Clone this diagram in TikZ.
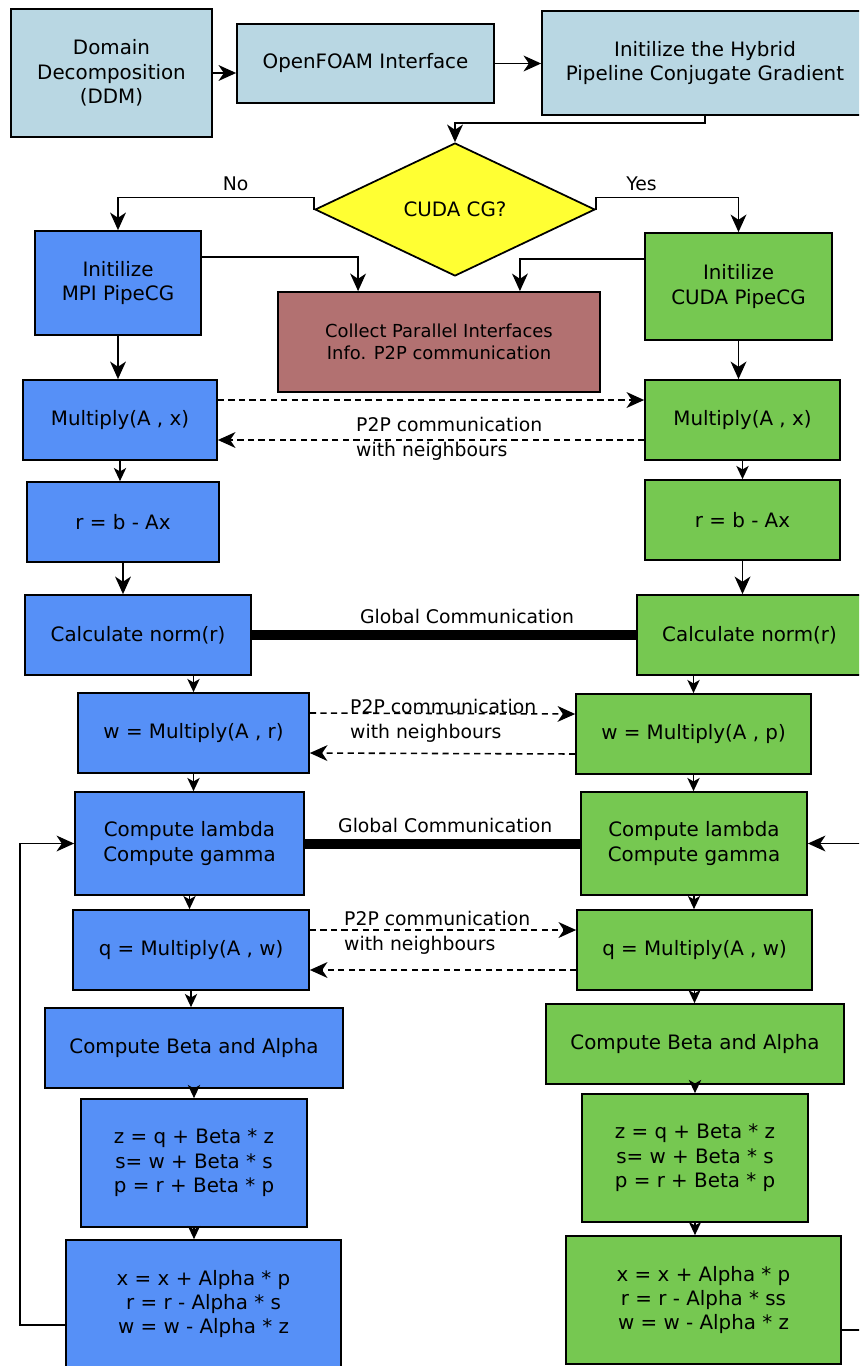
\documentclass[tikz,border=0pt]{standalone}
\usepackage{fontspec}
\setmainfont{DejaVu Sans}
\usepackage{tikz}
\usetikzlibrary{positioning, arrows.meta, shapes.geometric, calc}
\definecolor{setupBlue}{HTML}{B9D7E3}
\definecolor{mpiBlue}{HTML}{5690F7}
\definecolor{cudaGreen}{HTML}{76C851}
\definecolor{collectRed}{HTML}{B27171}
\definecolor{decisionYellow}{HTML}{FFFF33}

\begin{document}
\begin{tikzpicture}[
  x=0.02cm, y=-0.02cm,
  every node/.style={font=\fontsize{11.3}{13.9}\selectfont},
  stepbox/.style={
    rectangle, draw=black, line width=1pt,
    fill=#1, align=center, inner sep=0pt,
    minimum height=1.6cm
  },
  decision/.style={
    diamond, draw=black, line width=1pt,
    fill=decisionYellow, inner sep=0pt, aspect=2,
    minimum width=5.6cm, minimum height=2.66cm
  },
  flow/.style={-{Stealth[length=10pt, width=9pt, inset=3pt]}, line width=0.9pt},
  stepflow/.style={-{Stealth[length=7.5pt, width=7pt, inset=2pt]}, line width=0.9pt},
  p2p/.style={flow, dash pattern=on 3.5pt off 2.5pt},
  globalcomm/.style={line width=5.7pt},
  loopline/.style={flow, line width=0.8pt},
  commlabel/.style={font=\fontsize{10.7}{14}\selectfont, align=left},
]

\useasboundingbox (0,0) rectangle (859,1366);
\clip (0,0) rectangle (859,1366);

% === Setup Row ===
\node[stepbox=setupBlue, minimum width=4.02cm, minimum height=2.56cm] (ddm) at (111.5,73) {Domain\\Decomposition\\(DDM)};
\node[stepbox=setupBlue, minimum width=5.14cm, minimum height=1.58cm] (openfoam) at (365.5,63.5) {OpenFOAM Interface};
\node[stepbox=setupBlue, minimum width=6.52cm, minimum height=2.08cm] (hybrid) at (705,63) {Initilize the Hybrid\\Pipeline Conjugate Gradient};

\draw[flow] (ddm.east) -- (ddm.east -| openfoam.west);
\draw[flow] (openfoam.east) -- (openfoam.east -| hybrid.west);

% === Decision ===
\node[decision] (cudacg) at (455,209.5) {CUDA CG?};
\draw[flow] (hybrid.south) -- ++(0,7) -| (cudacg.north);

% === Init Nodes ===
\node[stepbox=mpiBlue, minimum width=3.32cm, minimum height=2.08cm] (mpiInit) at (118,283) {Initilize\\MPI PipeCG};
\node[stepbox=cudaGreen, minimum width=3.74cm, minimum height=2.14cm] (cudaInit) at (738.5,286.5) {Initilize\\CUDA PipeCG};
\node[stepbox=collectRed, minimum width=6.44cm, minimum height=2cm,
  font=\fontsize{10.2}{12.5}\selectfont] (collect) at (439,342) {Collect Parallel Interfaces\\Info. P2P communication};

\draw[flow] (cudacg.west) -- ++(0,-12) -| node[commlabel, above, pos=0.2] (nolabel) {No} (mpiInit.north);
\draw[flow] (cudacg.east) -- ++(0,-12) -| node[commlabel, above, pos=0.16] (yeslabel) {Yes} (cudaInit.north);
\draw[flow] ([yshift=0.52cm]mpiInit.east) -| ($(collect.north west)!0.25!(collect.north east)$);
\draw[flow] ([yshift=0.55cm]cudaInit.west) -| ($(collect.north west)!0.75!(collect.north east)$);

% === MPI Column ===
\node[stepbox=mpiBlue, minimum width=3.88cm] (mulL) at (120,420) {Multiply(A , x)};
\node[stepbox=mpiBlue, minimum width=3.84cm] (rL) at (123,522) {r = b - Ax};
\node[stepbox=mpiBlue, minimum width=4.52cm] (calcL) at (138,635) {Calculate norm(r)};
\node[stepbox=mpiBlue, minimum width=4.62cm] (wL) at (193.5,733) {w = Multiply(A , r)};
\node[stepbox=mpiBlue, minimum width=4.58cm, minimum height=2.06cm] (lamL) at (189.5,843.5) {Compute lambda\\Compute gamma};
\node[stepbox=mpiBlue, minimum width=4.72cm] (qL) at (191,950) {q = Multiply(A , w)};
\node[stepbox=mpiBlue, minimum width=5.96cm] (betaL) at (194,1048) {Compute Beta and Alpha};
\node[stepbox=mpiBlue, minimum width=4.52cm, minimum height=2.56cm] (zL) at (194,1163) {z = q + Beta * z\\s= w + Beta * s\\p = r + Beta * p};
\node[stepbox=mpiBlue, minimum width=5.5cm, minimum height=2.56cm] (xL) at (203.5,1304) {x = x + Alpha * p\\r = r - Alpha * s\\w = w - Alpha * z};

% === CUDA Column ===
\node[stepbox=cudaGreen, minimum width=3.9cm] (mulR) at (742.5,420) {Multiply(A , x)};
\node[stepbox=cudaGreen, minimum width=3.9cm] (rR) at (742.5,520) {r = b - Ax};
\node[stepbox=cudaGreen, minimum width=4.5cm] (calcR) at (749.5,635) {Calculate norm(r)};
\node[stepbox=cudaGreen, minimum width=4.7cm] (wR) at (693.5,734) {w = Multiply(A , p)};
\node[stepbox=cudaGreen, minimum width=4.52cm, minimum height=2.06cm] (lamR) at (694,843.5) {Compute lambda\\Compute gamma};
\node[stepbox=cudaGreen, minimum width=4.7cm] (qR) at (694.5,950) {q = Multiply(A , w)};
\node[stepbox=cudaGreen, minimum width=5.96cm] (betaR) at (695,1044) {Compute Beta and Alpha};
\node[stepbox=cudaGreen, minimum width=4.52cm, minimum height=2.56cm] (zR) at (695,1158) {z = q + Beta * z\\s= w + Beta * s\\p = r + Beta * p};
\node[stepbox=cudaGreen, minimum width=5.5cm, minimum height=2.56cm] (xR) at (703.5,1300) {x = x + Alpha * p\\r = r - Alpha * ss\\w = w - Alpha * z};

% === Vertical Flow ===
\foreach \a/\b in {mpiInit/mulL, rL/calcL, cudaInit/mulR, rR/calcR} {
  \draw[flow] (\a.south) -- (\a.south |- \b.north);
}
\foreach \a/\b in {mulL/rL, wL/lamL, lamL/qL, qL/betaL, betaL/zL, zL/xL,
                   mulR/rR, wR/lamR, lamR/qR, qR/betaR, betaR/zR, zR/xR} {
  \draw[stepflow] (\a.south) -- (\a.south |- \b.north);
}
\foreach \a/\b in {calcL/wL, calcR/wR} {
  \draw[stepflow] (\b.north |- \a.south) -- (\b.north);
}

% === P2P Communication ===
\foreach \l/\r in {mulL/mulR, wL/wR, qL/qR} {
  \draw[p2p] ([yshift=0.4cm]\l.east) -- ([yshift=0.4cm]\r.west);
  \draw[p2p] ([yshift=-0.4cm]\r.west) -- ([yshift=-0.4cm]\l.east);
}
\node[commlabel, anchor=west] (p2pA) at (350,439) {P2P communication\\with neighbours};
\node[commlabel, anchor=west] (p2pB) at (344,721) {P2P communication\\with neighbours};
\node[commlabel, anchor=west] (p2pC) at (338,933) {P2P communication\\with neighbours};

% === Global Communication ===
\draw[globalcomm] (calcL.east) -- node[commlabel, above=0pt, pos=0.56] (globalA) {Global Communication} (calcR.west);
\draw[globalcomm] (lamL.east) -- node[commlabel, above=0pt, pos=0.51] (globalB) {Global Communication} (lamR.west);

% === Iteration Loops ===
\coordinate (loopL) at (20,0);
\coordinate (loopR) at (880,0);
\draw[loopline] ([yshift=-0.42cm]xL.west) -| (loopL |- lamL.west) -- (lamL.west);
\draw[loopline] ([yshift=-0.6cm]xR.east) -| (loopR |- lamR.east) -- (lamR.east);

\end{tikzpicture}
\end{document}
